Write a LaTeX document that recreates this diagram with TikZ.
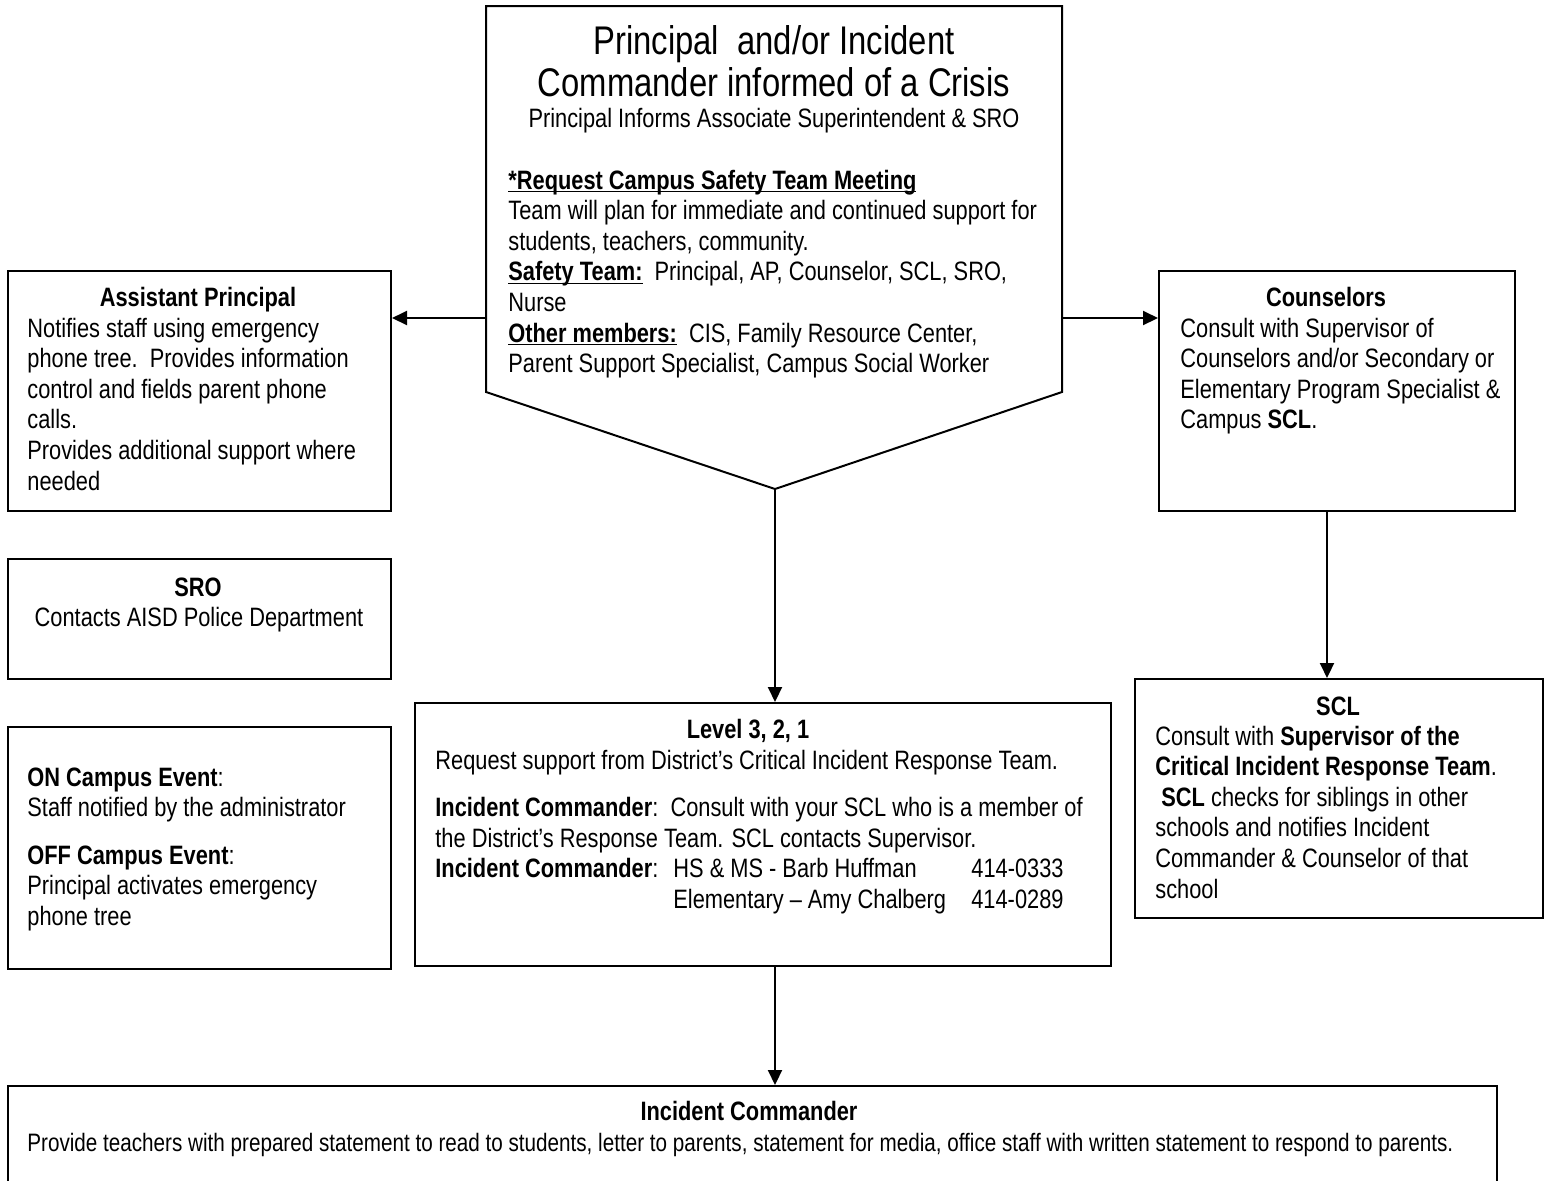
\documentclass[tikz,border=0pt]{standalone}
\usepackage{fontspec}
\setmainfont{Liberation Sans}[FakeStretch=0.82]
\usetikzlibrary{arrows.meta}
\newcommand\boxfont{\fontsize{13.3pt}{15.3pt}\selectfont}

\begin{document}
\begin{tikzpicture}[x=0.5pt,y=-0.5pt,every node/.style={font=\boxfont}]
\tikzset{box/.style = {draw, line width=1pt, anchor=north west, inner sep=0pt}}
\tikzset{head/.style = {anchor=base, inner sep=0pt, font=\boxfont\bfseries}}
\tikzset{body/.style = {anchor=base west, inner sep=0pt, align=flush left, text width=400pt}}
\tikzset{edge/.style = {-{Triangle[length=7.5pt,width=7pt]}, line width=1pt}}
\useasboundingbox (0,0) rectangle (1546,1180);

% crisis shape
\draw[line width=1pt] (486,6) -- (1062,6) -- (1062,392) -- (775,489) -- (486,392) -- cycle;
\coordinate (crisis-l) at (486,318);
\coordinate (crisis-r) at (1062,318);
\coordinate (crisis-tip) at (775,489);

% boxes
\node[box, minimum width=191.5pt, minimum height=120pt] (ap) at (7,270) {};
\node[box, minimum width=191.5pt, minimum height=60pt] (sro) at (7,558) {};
\node[box, minimum width=191.5pt, minimum height=121pt] (evt) at (7,726) {};
\node[box, minimum width=348pt, minimum height=131.5pt] (lvl) at (414,702) {};
\node[box, minimum width=178pt, minimum height=120pt] (cns) at (1158,270) {};
\node[box, minimum width=204pt, minimum height=119.5pt] (scl) at (1134,678) {};
\node[box, minimum width=744.5pt, minimum height=60pt] (ic) at (7,1085) {};

% texts
\node[anchor=base, inner sep=0pt, align=flush center, text width=300pt,
  font=\fontsize{20pt}{21pt}\selectfont] (crisis-head) at (774,54)
  {Principal\ \ and/or Incident\\Commander informed of a Crisis};
\node[anchor=base, inner sep=0pt] (crisis-sub) at (774,127)
  {Principal Informs Associate Superintendent \& SRO};
\node[body] (crisis-body) at (508,189)
  {\underbar{\textbf{*Request Campus Safety Team Meeting}}\\
   Team will plan for immediate and continued support for\\
   students, teachers, community.\\
   \underbar{\textbf{Safety Team:}}\ \ Principal, AP, Counselor, SCL, SRO,\\
   Nurse\\
   \underbar{\textbf{Other members:}}\ \ CIS, Family Resource Center,\\
   Parent Support Specialist, Campus Social Worker};

\node[head] (ap-head) at (198,306) {Assistant Principal};
\node[body] (ap-body) at (27,337)
  {Notifies staff using emergency\\
   phone tree.\ \ Provides information\\
   control and fields parent phone\\
   calls.\\
   Provides additional support where\\
   needed};

\node[head] (sro-head) at (198,596) {SRO};
\node[anchor=base, inner sep=0pt] (sro-body) at (199,626) {Contacts AISD Police Department};

\node[body] (evt-body) at (27,786)
  {\textbf{ON Campus Event}:\\
   Staff notified by the administrator\\[8.5pt]
   \textbf{OFF Campus Event}:\\
   Principal activates emergency\\
   phone tree};

\node[head] (lvl-head) at (748,738) {Level 3, 2, 1};
\node[body] (lvl-body) at (435,769)
  {Request support from District’s Critical Incident Response Team.\\[8.5pt]
   \textbf{Incident Commander}:\ \ Consult with your SCL who is a member of\\
   the District’s Response Team. SCL contacts Supervisor.\\
   \makebox[119pt][l]{\textbf{Incident Commander}:}\makebox[149pt][l]{HS \& MS - Barb Huffman}414-0333\\
   \hspace*{119pt}\makebox[149pt][l]{Elementary – Amy Chalberg}414-0289};

\node[head] (cns-head) at (1326,306) {Counselors};
\node[body] (cns-body) at (1180,337)
  {Consult with Supervisor of\\
   Counselors and/or Secondary or\\
   Elementary Program Specialist \&\\
   Campus \textbf{SCL}.};

\node[head] (scl-head) at (1338,715) {SCL};
\node[body] (scl-body) at (1155,745)
  {Consult with \textbf{Supervisor of the}\\
   \textbf{Critical Incident Response Team}.\\
   \hspace*{3pt}\textbf{SCL} checks for siblings in other\\
   schools and notifies Incident\\
   Commander \& Counselor of that\\
   school};

\node[head] (ic-head) at (749,1120) {Incident Commander};
\node[anchor=base west, inner sep=0pt, font=\fontsize{12.6pt}{15.3pt}\selectfont] (ic-body) at (27,1151)
  {Provide teachers with prepared statement to read to students, letter to parents, statement for media, office staff with written statement to respond to parents.};

% arrows
\draw[edge] (crisis-l) -- (crisis-l -| ap.east);
\draw[edge] (crisis-r) -- (crisis-r -| cns.west);
\draw[edge] (crisis-tip) -- (crisis-tip |- lvl.north);
\draw[edge] ([xshift=-5pt]cns.south) -- ([xshift=-5pt]cns.south |- scl.north);
\draw[edge] (crisis-tip |- lvl.south) -- (crisis-tip |- ic.north);

\end{tikzpicture}
\end{document}
